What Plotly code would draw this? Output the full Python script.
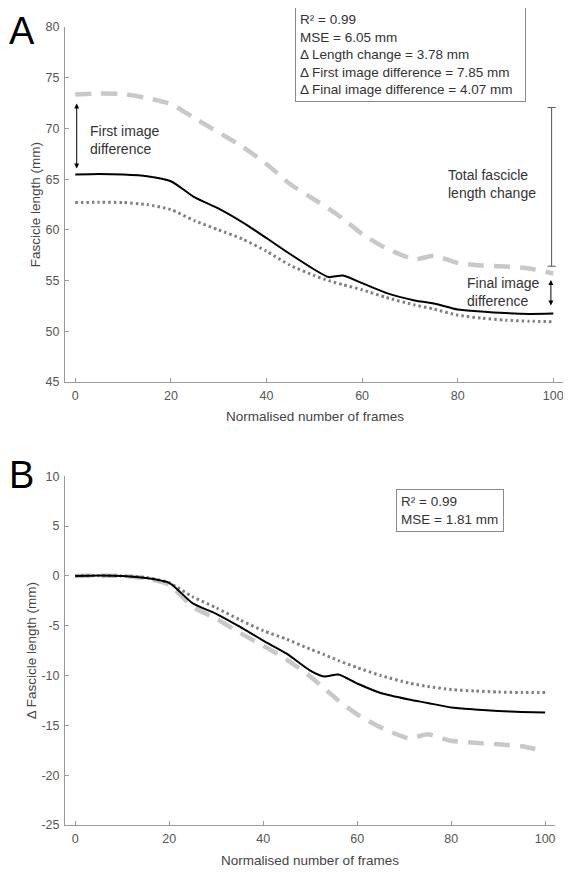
import plotly.graph_objects as go

# ---------------- data ----------------
frames = [0, 5, 10, 15, 20, 25, 30, 35, 40, 45, 50, 53, 56, 60, 65, 71, 75, 80, 85, 90, 95, 100]

# Panel A: fascicle length (mm)
a_solid = [65.45, 65.5, 65.45, 65.3, 64.8, 63.2, 62.1, 60.75, 59.2, 57.6, 56.1, 55.35, 55.5,
           54.75, 53.8, 53.05, 52.75, 52.15, 51.95, 51.8, 51.72, 51.75]
a_dotted = [62.7, 62.72, 62.7, 62.5, 62.0, 60.9, 60.0, 59.1, 57.9, 56.5, 55.5, 55.0, 54.6,
            54.1, 53.35, 52.6, 52.2, 51.6, 51.3, 51.1, 51.0, 50.95]
a_dashed = [73.35, 73.45, 73.4, 73.0, 72.4, 71.0, 69.6, 68.2, 66.5, 64.5, 63.0, 62.1, 61.1,
            59.6, 58.2, 57.1, 57.45, 56.75, 56.5, 56.4, 56.2, 55.7]

# Panel B: change in fascicle length (mm)
b_solid = [0.0, 0.05, 0.0, -0.2, -0.7, -2.75, -3.8, -5.1, -6.5, -7.8, -9.5, -10.1, -9.9,
           -10.8, -11.75, -12.4, -12.75, -13.2, -13.4, -13.55, -13.65, -13.7]
b_dotted = [0.0, 0.02, 0.0, -0.15, -0.7, -2.1, -3.2, -4.4, -5.5, -6.35, -7.35, -7.9, -8.5,
            -9.2, -10.0, -10.75, -11.1, -11.4, -11.55, -11.65, -11.7, -11.7]
b_dashed = [0.0, 0.05, 0.0, -0.25, -0.9, -3.1, -4.3, -5.7, -7.0, -8.4, -10.1, -11.3, -12.5,
            -13.9, -15.2, -16.3, -15.9, -16.55, -16.75, -16.9, -17.1, -17.6]

x_ticks = [0, 20, 40, 60, 80, 100]
a_yticks = [45, 50, 55, 60, 65, 70, 75, 80]
b_yticks = [10, 5, 0, -5, -10, -15, -20, -25]

box_a = ["R² = 0.99", "MSE = 6.05 mm", "Δ Length change = 3.78 mm",
         "Δ First image difference = 7.85 mm", "Δ Final image difference = 4.07 mm"]
box_b = ["R² = 0.99", "MSE = 1.81 mm"]

# ---------------- styling ----------------
FONT = "Liberation Sans, Arial, sans-serif"
SOLID = dict(color="black", width=2)
DOTTED = dict(color="#808080", width=3, dash="2.5px,3px")
DASHED = dict(color="#c8c8c8", width=4.5, dash="16px,10px")

fig = go.Figure()

for ys, ln in [(a_dashed, DASHED), (a_dotted, DOTTED), (a_solid, SOLID)]:
    fig.add_trace(go.Scatter(x=frames, y=ys, mode="lines", line=dict(**ln, shape="spline", smoothing=0.6),
                             xaxis="x", yaxis="y", showlegend=False, hoverinfo="skip"))
for ys, ln in [(b_dashed, DASHED), (b_dotted, DOTTED), (b_solid, SOLID)]:
    fig.add_trace(go.Scatter(x=frames, y=ys, mode="lines", line=dict(**ln, shape="spline", smoothing=0.6),
                             xaxis="x2", yaxis="y2", showlegend=False, hoverinfo="skip"))

axis_common = dict(showgrid=False, zeroline=False, showline=True, linecolor="#9a9a9a", linewidth=1,
                   ticks="inside", ticklen=4, tickcolor="#9a9a9a", mirror=False, automargin=False,
                   ticklabelstandoff=2,
                   tickfont=dict(family=FONT, size=12.5, color="#555555"),
                   title_font=dict(family=FONT, size=13.5, color="#444444"))

# the page body adds an 8px margin, so the figure is 8px smaller and margins 8px less
fig.update_layout(
    width=563, height=867,
    margin=dict(l=57, r=6, t=19, b=50),
    paper_bgcolor="white", plot_bgcolor="white",
    font=dict(family=FONT),
    xaxis=dict(domain=[0, 1], range=[-2.15, 102.45], tickvals=x_ticks, anchor="y",
               title=dict(text="Normalised number of frames", standoff=9), **axis_common),
    yaxis=dict(domain=[0.555, 1], range=[45, 80], tickvals=a_yticks,
               ticktext=[str(v) for v in a_yticks], anchor="x",
               title=dict(text="Fascicle length (mm)", standoff=1), **axis_common),
    xaxis2=dict(domain=[0, 0.98], range=[-2.19, 102.1], tickvals=x_ticks, anchor="y2",
                title=dict(text="Normalised number of frames", standoff=10), **axis_common),
    yaxis2=dict(domain=[0, 0.437], range=[-25, 10], tickvals=b_yticks,
                ticktext=[str(v) for v in b_yticks], anchor="x2",
                title=dict(text="Δ Fascicle length (mm)", standoff=1), **axis_common),
)

ann_font = dict(family=FONT, size=14, color="#333333")
box_font = dict(family=FONT, size=13.5, color="#333333")

annotations = [
    dict(text="A", xref="paper", yref="paper", x=-0.087, y=0.995, xanchor="center", yanchor="middle",
         showarrow=False, font=dict(family=FONT, size=38, color="black")),
    dict(text="B", xref="paper", yref="paper", x=-0.087, y=0.4386, xanchor="center", yanchor="middle",
         showarrow=False, font=dict(family=FONT, size=38, color="black")),
    dict(text="<br>".join(box_a), xref="paper", yref="paper", x=0.46, y=1.025, xanchor="left",
         yanchor="top", align="left", showarrow=False, font=box_font, bordercolor="#8a8a8a",
         borderwidth=1, borderpad=4, bgcolor="white", width=221),
    dict(text="<br>".join(box_b), xref="x2", yref="y2", x=68.2, y=8.7, xanchor="left", yanchor="top",
         align="left", showarrow=False, font=box_font, bordercolor="#8a8a8a", borderwidth=1,
         borderpad=4, bgcolor="white", width=98),
    dict(text="First image<br>difference", xref="x", yref="y", x=2.6, y=68.89, xanchor="left",
         yanchor="middle", align="left", showarrow=False, font=ann_font),
    dict(text="Total fascicle<br>length change", xref="x", yref="y", x=77.55, y=64.48, xanchor="left",
         yanchor="middle", align="left", showarrow=False, font=ann_font),
    dict(text="Final image<br>difference", xref="x", yref="y", x=81.5, y=53.88, xanchor="left",
         yanchor="middle", align="left", showarrow=False, font=ann_font),
    dict(text="", xref="x", yref="y", axref="x", ayref="y", x=0.3, y=66.05, ax=0.3, ay=72.6,
         showarrow=True, arrowhead=2, arrowside="end+start", arrowsize=1, arrowwidth=1,
         arrowcolor="black", standoff=0, startstandoff=0),
    dict(text="", xref="x", yref="y", axref="x", ayref="y", x=99.5, y=52.55, ax=99.5, ay=55.2,
         showarrow=True, arrowhead=2, arrowside="end+start", arrowsize=1, arrowwidth=1,
         arrowcolor="black", standoff=0, startstandoff=0),
]
fig.update_layout(annotations=annotations)

bar_x = 99.65
bar_top, bar_bot = 72.06, 56.42
cap = 0.85
line_style = dict(color="#555555", width=1)
fig.add_shape(type="line", xref="x", yref="y", x0=bar_x, x1=bar_x, y0=bar_bot, y1=bar_top, line=line_style)
fig.add_shape(type="line", xref="x", yref="y", x0=bar_x - cap, x1=bar_x + cap, y0=bar_top, y1=bar_top, line=line_style)
fig.add_shape(type="line", xref="x", yref="y", x0=bar_x - cap, x1=bar_x + cap, y0=bar_bot, y1=bar_bot, line=line_style)

fig.write_html("out.html")
